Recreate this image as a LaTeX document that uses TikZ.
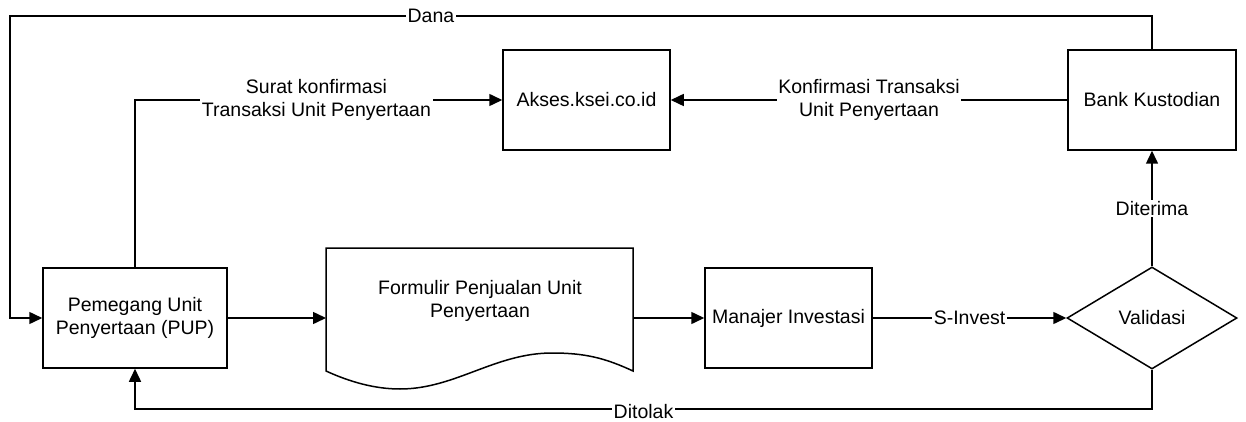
\documentclass[tikz,border=0pt]{standalone}
\usepackage{fontspec}
\setmainfont{Liberation Sans}
\usetikzlibrary{arrows.meta,shapes.geometric}
\begin{document}
\begin{tikzpicture}[x=1pt,y=-1pt,
  every node/.style={font=\fontsize{19.5}{23}\selectfont},
  box/.style={draw, line width=1.5pt, minimum width=#1, minimum height=100pt, align=center, inner sep=0pt},
  decision/.style={draw, line width=1.5pt, diamond, aspect=1.667, minimum width=170pt, minimum height=102pt, inner sep=0pt},
  conn/.style={line width=1.5pt},
  arr/.style={conn, -{Triangle[length=13pt,width=12pt]}},
  lbl/.style={fill=white, inner xsep=1.5pt, inner ysep=1pt, align=center}]
\useasboundingbox (0,0) rectangle (1246,422);
% nodes
\node[box=184pt] (pup) at (135,318) {Pemegang Unit\\Penyertaan (PUP)};
\node[box=167pt] (akses) at (586.5,100) {Akses.ksei.co.id};
\node[box=168pt] (bank) at (1152,100) {Bank Kustodian};
\node[box=167pt] (mi) at (788.5,318) {Manajer Investasi};
\node[decision] (val) at (1152,318) {Validasi};
% document shape
\draw[line width=1.5pt] (326,248) -- (633,248) -- (633,371)
  .. controls (605,358) and (585,353) .. (552,353)
  .. controls (495,353) and (455,389) .. (400,389)
  .. controls (375,389) and (350,382) .. (326,371) -- cycle;
\node[align=center] (form) at (480,301) {Formulir Penjualan Unit\\Penyertaan};
\coordinate (formL) at (326,318);
\coordinate (formR) at (633,318);
\coordinate (dl) at (10,16);
% connectors
\draw[arr] (pup.east) -- (formL);
\draw[arr] (formR) -- (mi.west);
\draw[arr] (mi.east) -- node[lbl] {S-Invest} (val.west);
\draw[arr] (val.north) -- node[lbl] {Diterima} (bank.south);
\draw[arr] (bank.west) -- node[lbl, inner xsep=1pt] {Konfirmasi Transaksi\\Unit Penyertaan} (akses.east);
\draw[arr] (pup.north) |- node[lbl, pos=0.747, inner xsep=2pt] {Surat konfirmasi\\Transaksi Unit Penyertaan} (akses.west);
\draw[arr] (bank.north) |- node[lbl, pos=0.8157] {Dana} (dl) |- (pup.west);
\draw[arr] (val.south) -- ++(0,39) -| node[lbl, pos=0.25, yshift=-3pt] {Ditolak} (pup.south);
\end{tikzpicture}
\end{document}
